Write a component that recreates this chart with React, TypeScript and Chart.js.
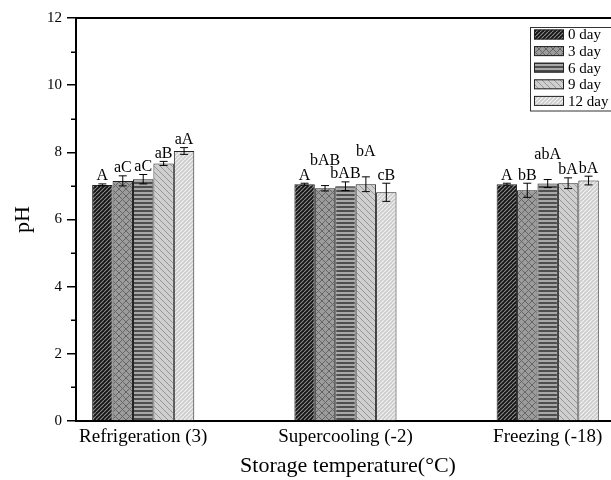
import { useEffect, useRef } from 'react';
import { Chart, registerables } from 'chart.js';

Chart.register(...registerables);

const FONT = "'Liberation Serif', 'Times New Roman', serif";

const categories = ['Refrigeration (3)', 'Supercooling (-2)', 'Freezing (-18)'];
const seriesNames = ['0 day', '3 day', '6 day', '9 day', '12 day'];

const day0 = [7.03, 7.05, 7.05];
const day3 = [7.15, 6.93, 6.87];
const day6 = [7.2, 6.99, 7.07];
const day9 = [7.67, 7.05, 7.08];
const day12 = [8.04, 6.81, 7.16];

const err0 = [0.03, 0.03, 0.03];
const err3 = [0.15, 0.08, 0.21];
const err6 = [0.14, 0.13, 0.12];
const err9 = [0.06, 0.22, 0.16];
const err12 = [0.1, 0.27, 0.13];

const lab0 = ['A', 'A', 'A'];
const lab3 = ['aC', 'bAB', 'bB'];
const lab6 = ['aC', 'bAB', 'abA'];
const lab9 = ['aB', 'bA', 'bA'];
const lab12 = ['aA', 'cB', 'bA'];

const yTicks = [0, 2, 4, 6, 8, 10, 12];
const yMinorTicks = [1, 3, 5, 7, 9, 11];

const values = [day0, day3, day6, day9, day12];
const errors = [err0, err3, err6, err9, err12];
const letters = [lab0, lab3, lab6, lab9, lab12];

type PatSpec = { bg: string; fg: string; p: number; kind: 'slash' | 'back' | 'cross' | 'hstripe'; lw: number };
const patternSpecs: PatSpec[] = [
  { bg: '#141414', fg: '#8c8c8c', p: 4, kind: 'slash', lw: 1.1 },
  { bg: '#9c9c9c', fg: '#666666', p: 7, kind: 'cross', lw: 1 },
  { bg: '#a8a8a8', fg: '#4e4e4e', p: 4, kind: 'hstripe', lw: 2 },
  { bg: '#cfcfcf', fg: '#959595', p: 6, kind: 'back', lw: 1 },
  { bg: '#cdcdcd', fg: '#f2f2f2', p: 4, kind: 'slash', lw: 1.2 },
];

function makePattern(spec: PatSpec): CanvasPattern | string {
  const c = document.createElement('canvas');
  const p = spec.p;
  c.width = p;
  c.height = p;
  const g = c.getContext('2d');
  if (!g) return spec.bg;
  g.fillStyle = spec.bg;
  g.fillRect(0, 0, p, p);
  g.strokeStyle = spec.fg;
  g.fillStyle = spec.fg;
  g.lineWidth = spec.lw;
  if (spec.kind === 'hstripe') {
    g.fillRect(0, p - spec.lw, p, spec.lw);
  } else {
    g.beginPath();
    for (let k = -1; k <= 1; k++) {
      if (spec.kind === 'slash' || spec.kind === 'cross') {
        g.moveTo(k * p, p);
        g.lineTo(k * p + p, 0);
      }
      if (spec.kind === 'back' || spec.kind === 'cross') {
        g.moveTo(k * p, 0);
        g.lineTo(k * p + p, p);
      }
    }
    g.stroke();
  }
  const pat = g.createPattern(c, 'repeat');
  return pat || spec.bg;
}

const overlayPlugin = {
  id: 'overlay',
  afterDatasetsDraw(chart: any) {
    const { ctx, scales } = chart;
    const y = scales.y;
    ctx.save();
    ctx.strokeStyle = '#000';
    ctx.lineWidth = 1;
    const cap = 4;
    const boxes: { x0: number; x1: number; y0: number; y1: number; level: number; group: number }[] = [];
    ctx.font = `16px ${FONT}`;
    ctx.fillStyle = '#000';
    ctx.textAlign = 'center';
    ctx.textBaseline = 'alphabetic';
    for (let j = 0; j < categories.length; j++) {
      for (let i = 0; i < values.length; i++) {
        const bar = chart.getDatasetMeta(i).data[j];
        const x = bar.x;
        const v = values[i][j];
        const e = errors[i][j];
        const yt = y.getPixelForValue(v + e);
        const yb = y.getPixelForValue(v - e);
        ctx.beginPath();
        ctx.moveTo(x, yt);
        ctx.lineTo(x, yb);
        ctx.moveTo(x - cap, yt);
        ctx.lineTo(x + cap, yt);
        ctx.moveTo(x - cap, yb);
        ctx.lineTo(x + cap, yb);
        ctx.stroke();
        const text = letters[i][j];
        const w = ctx.measureText(text).width;
        let base = yt - 3.5;
        const x0 = x - w / 2;
        const x1 = x + w / 2;
        const clash = boxes.some(
          (b) => b.group === j && b.level === 0 && x0 < b.x1 - 0.2 && x1 > b.x0 + 0.2 && base - 11 < b.y1 && base > b.y0
        );
        let level = 0;
        if (clash) {
          level = 1;
          base -= 17;
        }
        boxes.push({ x0, x1, y0: base - 11, y1: base, level, group: j });
        ctx.fillText(text, x, base);
      }
    }
    ctx.restore();
  },
  afterDraw(chart: any) {
    const { ctx, chartArea, scales } = chart;
    const y = scales.y;
    ctx.save();
    ctx.strokeStyle = '#000';
    ctx.lineWidth = 2;
    ctx.beginPath();
    ctx.moveTo(chartArea.left - 1, chartArea.top);
    ctx.lineTo(chartArea.right + 1, chartArea.top);
    ctx.moveTo(chartArea.right, chartArea.top);
    ctx.lineTo(chartArea.right, chartArea.bottom);
    ctx.stroke();
    ctx.lineWidth = 1.5;
    ctx.beginPath();
    for (const t of yMinorTicks) {
      const py = Math.round(y.getPixelForValue(t)) + 0.25;
      ctx.moveTo(chartArea.left - 5, py);
      ctx.lineTo(chartArea.left, py);
    }
    ctx.stroke();
    const lx = 530;
    const ly = 27.5;
    ctx.lineWidth = 1;
    ctx.strokeStyle = '#333';
    ctx.strokeRect(lx + 0.5, ly, 120, 83.5);
    ctx.font = `15px ${FONT}`;
    ctx.textAlign = 'left';
    ctx.textBaseline = 'middle';
    seriesNames.forEach((name, i) => {
      const cy = ly + 7 + i * 16.6;
      ctx.fillStyle = chart.data.datasets[i].backgroundColor;
      ctx.fillRect(534, cy - 5, 30, 10);
      ctx.strokeStyle = '#222';
      ctx.strokeRect(534.5, cy - 5 + 0.5, 29, 9);
      ctx.fillStyle = '#000';
      ctx.fillText(name, 568, cy + 1);
    });
    ctx.restore();
  },
};

export default function App() {
  const ref = useRef<HTMLCanvasElement>(null);
  useEffect(() => {
    const canvas = ref.current;
    if (!canvas) return;
    const datasets = values.map((vals, i) => ({
      label: seriesNames[i],
      data: vals.map((v, j) => ({ x: j + 1, y: v })),
      backgroundColor: makePattern(patternSpecs[i]) as any,
      borderColor: '#222222',
      borderWidth: 1,
      categoryPercentage: 0.505,
      barPercentage: 1,
    }));
    const chart = new Chart(canvas, {
      type: 'bar',
      data: { datasets },
      options: {
        responsive: false,
        animation: false,
        layout: { padding: { left: 0, top: 18, right: 10, bottom: 0 } },
        plugins: { legend: { display: false }, tooltip: { enabled: false } },
        scales: {
          x: {
            type: 'linear',
            min: 0.6677,
            max: 3.3575,
            offset: false,
            afterBuildTicks: (s: any) => {
              s.ticks = categories.map((_, i) => ({ value: i + 1 }));
            },
            afterFit: (s: any) => {
              s.height = 59;
            },
            grid: { display: false, drawTicks: false, tickLength: 0 },
            border: { display: true, color: '#000', width: 2 },
            ticks: {
              color: '#000',
              padding: 5,
              autoSkip: false,
              maxRotation: 0,
              font: { family: FONT, size: 19 },
              callback: (v: any) => categories[Math.round(Number(v)) - 1] ?? '',
            },
            title: {
              display: true,
              text: 'Storage temperature(°C)',
              color: '#000',
              font: { family: FONT, size: 22 },
              padding: { top: 0, bottom: 1 },
            },
          },
          y: {
            type: 'linear',
            min: 0,
            max: 12,
            afterBuildTicks: (s: any) => {
              s.ticks = yTicks.map((v) => ({ value: v }));
            },
            afterFit: (s: any) => {
              s.width = 76;
            },
            grid: { display: true, drawOnChartArea: false, drawTicks: true, tickLength: 9, color: '#000', lineWidth: 1.5 },
            border: { display: true, color: '#000', width: 2 },
            ticks: {
              color: '#000',
              padding: 5,
              font: { family: FONT, size: 15 },
            },
            title: {
              display: true,
              text: 'pH',
              color: '#000',
              font: { family: FONT, size: 22 },
              padding: { top: 10, bottom: 0 },
            },
          },
        },
      },
      plugins: [overlayPlugin],
    } as any);
    return () => chart.destroy();
  }, []);
  return (
    <div style={{ position: 'fixed', left: 0, top: 0, width: 611, height: 480, overflow: 'hidden', background: '#fff' }}>
      <canvas ref={ref} width={630} height={480} style={{ display: 'block', width: 630, height: 480 }} />
    </div>
  );
}
